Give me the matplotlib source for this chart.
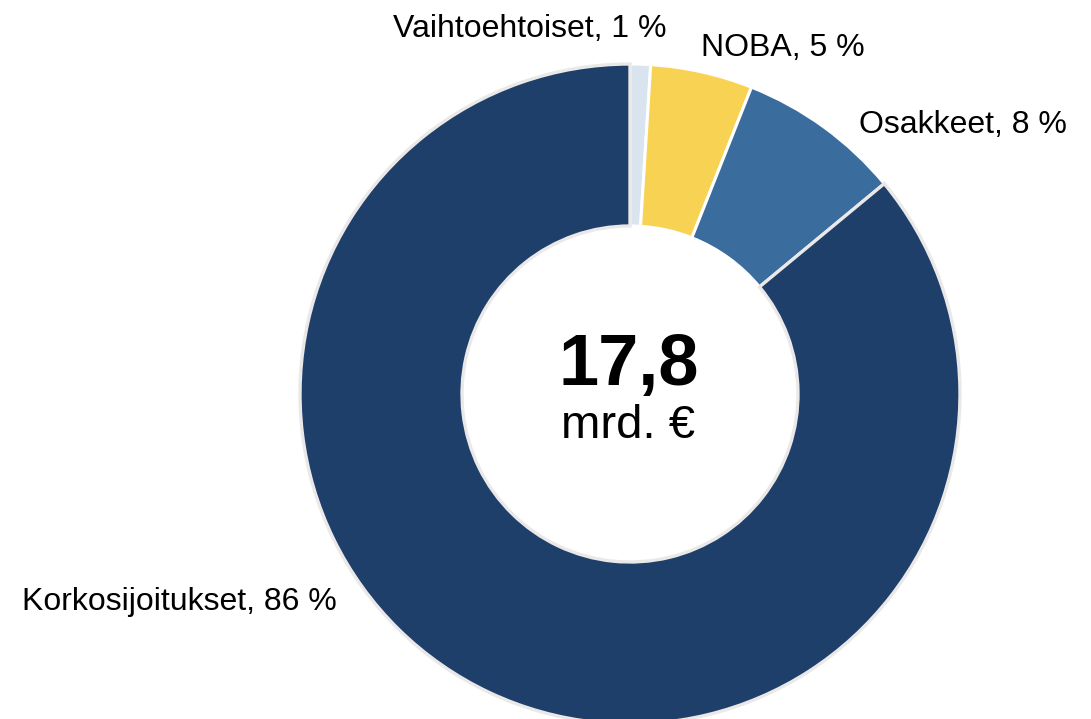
import matplotlib
matplotlib.use("Agg")
import matplotlib.pyplot as plt

categories = ["Vaihtoehtoiset", "NOBA", "Osakkeet", "Korkosijoitukset"]
values = [1, 5, 8, 86]
labels = ["Vaihtoehtoiset, 1 %", "NOBA, 5 %", "Osakkeet, 8 %", "Korkosijoitukset, 86 %"]
colors = ["#dae4ee", "#f8d253", "#3a6c9e", "#1f3f6b"]
total_text = "17,8"
unit_text = "mrd. €"

W, H = 1091, 719
plt.rcParams['font.family'] = ['Liberation Sans', 'DejaVu Sans']
fig = plt.figure(figsize=(W / 100, H / 100), dpi=100)
ax = fig.add_axes([0, 0, 1, 1])

cx, cy, R = 630, H - 394, 330
wedges, _ = ax.pie(values, colors=colors, startangle=90, counterclock=False,
                   center=(cx, cy), radius=R, frame=True,
                   wedgeprops=dict(width=162, linewidth=2.2, edgecolor="white"))
wedges[-1].set_edgecolor("#ebe8e8")
wedges[-1].set_linewidth(2.4)

ax.set_xlim(0, W)
ax.set_ylim(0, H)
ax.set_aspect('equal')
ax.axis('off')

label_pos = [(530, 37), (783, 56), (963, 133), (179, 610)]
for lab, (x, y) in zip(labels, label_pos):
    ax.text(x, H - y, lab, ha='center', va='baseline', fontsize=23, color='black')

ax.text(629, H - 385, total_text, ha='center', va='baseline', fontsize=52,
        fontweight='bold', color='black')
ax.text(628, H - 438, unit_text, ha='center', va='baseline', fontsize=34, color='black')

fig.savefig("out.png", dpi=100)
